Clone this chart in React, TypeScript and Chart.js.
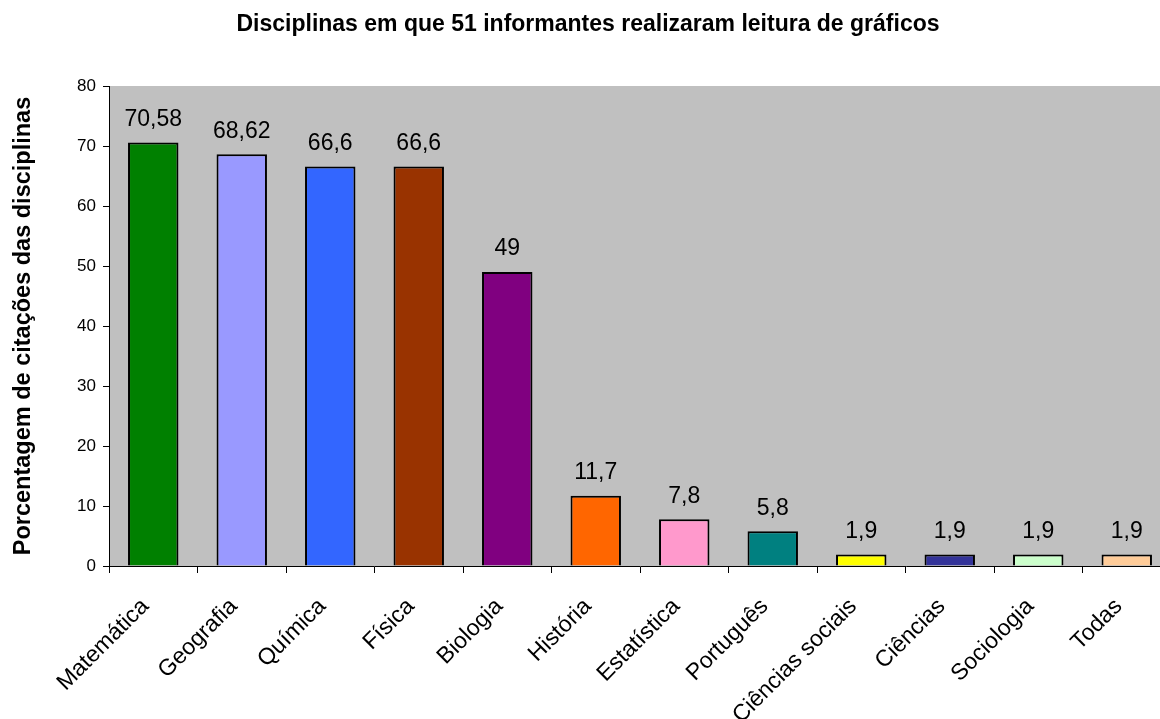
import React, { useEffect, useRef } from "react";
import { Chart, registerables } from "chart.js";

Chart.register(...registerables);

const categories = [
  "Matemática",
  "Geografia",
  "Química",
  "Física",
  "Biologia",
  "História",
  "Estatística",
  "Português",
  "Ciências sociais",
  "Ciências",
  "Sociologia",
  "Todas",
];

const values = [70.58, 68.62, 66.6, 66.6, 49, 11.7, 7.8, 5.8, 1.9, 1.9, 1.9, 1.9];

const barColors = [
  "#008000",
  "#9999FF",
  "#3366FF",
  "#993300",
  "#800080",
  "#FF6600",
  "#FF99CC",
  "#008080",
  "#FFFF00",
  "#333399",
  "#CCFFCC",
  "#FFCC99",
];

const yTicks = [0, 10, 20, 30, 40, 50, 60, 70, 80];

const chartTitle = "Disciplinas em que 51 informantes realizaram leitura de gráficos";
const yTitle = "Porcentagem de citações das disciplinas";

const FONT = "'Liberation Sans', Arial, Helvetica, sans-serif";

const plotBg = {
  id: "plotBg",
  beforeDraw(chart: any) {
    const { ctx, chartArea } = chart;
    ctx.save();
    ctx.fillStyle = "#C0C0C0";
    ctx.fillRect(chartArea.left, chartArea.top, chartArea.right - chartArea.left, chartArea.bottom - chartArea.top);
    ctx.restore();
  },
};

const valueLabels = {
  id: "valueLabels",
  afterDatasetsDraw(chart: any) {
    const { ctx } = chart;
    const meta = chart.getDatasetMeta(0);
    ctx.save();
    ctx.fillStyle = "#000000";
    ctx.font = `23px ${FONT}`;
    ctx.textAlign = "center";
    ctx.textBaseline = "middle";
    meta.data.forEach((bar: any, i: number) => {
      const v = values[i];
      const txt = String(v).replace(".", ",");
      ctx.fillText(txt, bar.x, bar.y - 23);
    });
    ctx.restore();
  },
};

export default function App() {
  const ref = useRef<HTMLCanvasElement | null>(null);

  useEffect(() => {
    if (!ref.current) return;
    const chart = new Chart(ref.current, {
      type: "bar",
      data: {
        labels: categories,
        datasets: [
          {
            data: values,
            backgroundColor: barColors,
            borderColor: "#000000",
            borderWidth: 2,
            categoryPercentage: 1,
            barPercentage: 0.57,
          },
        ],
      },
      options: {
        responsive: false,
        animation: false,
        devicePixelRatio: 1,
        layout: { padding: { left: 5, right: 3, top: 0, bottom: 0 } },
        plugins: {
          legend: { display: false },
          tooltip: { enabled: false },
          title: {
            display: true,
            text: chartTitle,
            color: "#000000",
            font: { family: FONT, size: 23, weight: "bold" },
            padding: { top: 10.7, bottom: 47.7 },
          },
        },
        scales: {
          x: {
            offset: true,
            grid: {
              offset: true,
              drawOnChartArea: false,
              drawTicks: true,
              tickLength: 7,
              color: "#000000",
            },
            border: { display: true, color: "#000000", width: 1 },
            ticks: {
              autoSkip: false,
              minRotation: 45,
              maxRotation: 45,
              padding: 20,
              labelOffset: -8,
              color: "#000000",
              font: { family: FONT, size: 23 },
            },
            afterFit(scale: any) {
              scale.height = 153;
            },
          },
          y: {
            min: 0,
            max: 80,
            afterBuildTicks(scale: any) {
              scale.ticks = yTicks.map((v) => ({ value: v }));
            },
            grid: {
              drawOnChartArea: false,
              drawTicks: true,
              tickLength: 6,
              color: "#000000",
            },
            border: { display: true, color: "#000000", width: 1 },
            ticks: {
              padding: 7,
              color: "#000000",
              font: { family: FONT, size: 17 },
            },
            title: {
              display: true,
              text: yTitle,
              color: "#000000",
              font: { family: FONT, size: 23.5, weight: "bold" },
              padding: { top: 4.7, bottom: 0 },
            },
            afterFit(scale: any) {
              scale.width = 104;
            },
          },
        },
      },
      plugins: [plotBg, valueLabels],
    });
    return () => chart.destroy();
  }, []);

  return (
    <div
      style={{
        position: "absolute",
        left: 0,
        top: 0,
        width: 1160,
        height: 719,
        overflow: "hidden",
        background: "#ffffff",
      }}
    >
      <canvas ref={ref} width={1174} height={719} style={{ width: 1174, height: 719, display: "block" }} />
    </div>
  );
}
